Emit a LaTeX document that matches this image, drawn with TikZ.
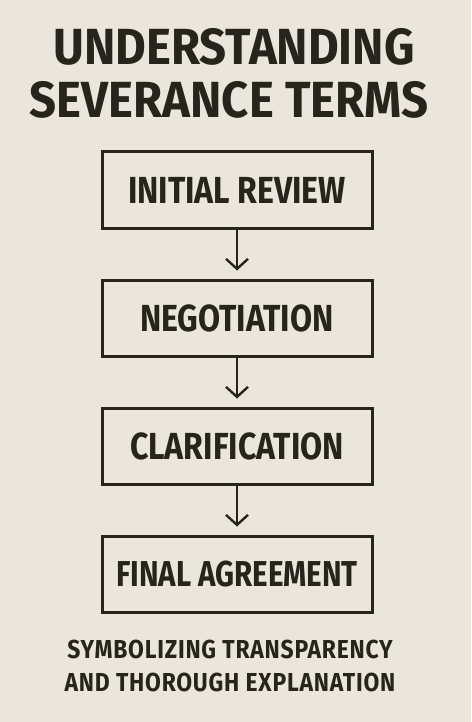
\documentclass[tikz,border=0pt]{standalone}
\usepackage{fontspec}
\setmainfont{Fira Sans}
\newfontfamily\headfont{Fira Sans}[FakeStretch=0.93]
\newfontfamily\boxfont{Fira Sans}[FakeStretch=0.85]
\newfontfamily\tightfont{Fira Sans}[FakeStretch=0.82]
\newfontfamily\notefont{Fira Sans}[FakeStretch=0.88, LetterSpace=3]
\usepackage{xcolor}
\usepackage{tikz}
\usetikzlibrary{arrows.meta}
\definecolor{paper}{HTML}{ECE5D9}
\definecolor{ink}{HTML}{27241C}
\tikzstyle{title} = [text=ink, font=\headfont\fontsize{50.8}{53}\selectfont\bfseries, align=center, inner sep=0pt]
\tikzstyle{stepbox} = [rectangle, minimum width=270pt, minimum height=76pt, text centered, draw=ink, line width=3pt, text=ink, font=\boxfont\fontsize{37.7}{40}\selectfont\bfseries]
\tikzstyle{arrow} = [draw=ink, line width=2.4pt, -{Straight Barb[length=10pt,width=22pt,line width=2.4pt]}]
\tikzstyle{caption} = [text=ink, font=\notefont\fontsize{26}{33}\selectfont\bfseries, align=center, inner sep=0pt]

\begin{document}
\begin{tikzpicture}[x=1pt, y=-1pt, node distance=128pt]
   \fill[paper] (0,0) rectangle (471,722);
   \useasboundingbox (0,0) rectangle (471,722);
   \node (head1) [title] at (234,47) {UNDERSTANDING};
   \node (head2) [title] at (229,100) {SEVERANCE TERMS};
   \node (review) [stepbox] at (237,190) {INITIAL REVIEW};
   \node (nego) [stepbox, below of=review] {NEGOTIATION};
   \node (clar) [stepbox, below of=nego] {CLARIFICATION};
   \node (final) [stepbox, below of=clar, font=\tightfont\fontsize{36}{40}\selectfont\bfseries] {FINAL AGREEMENT};
   \draw [arrow] (review) -- ([yshift=8pt]nego.north);
   \draw [arrow] (nego) -- ([yshift=8pt]clar.north);
   \draw [arrow] (clar) -- ([yshift=8pt]final.north);
   \node (note) [caption] at (230,666) {SYMBOLIZING TRANSPARENCY\\AND THOROUGH EXPLANATION};
\end{tikzpicture}
\end{document}
